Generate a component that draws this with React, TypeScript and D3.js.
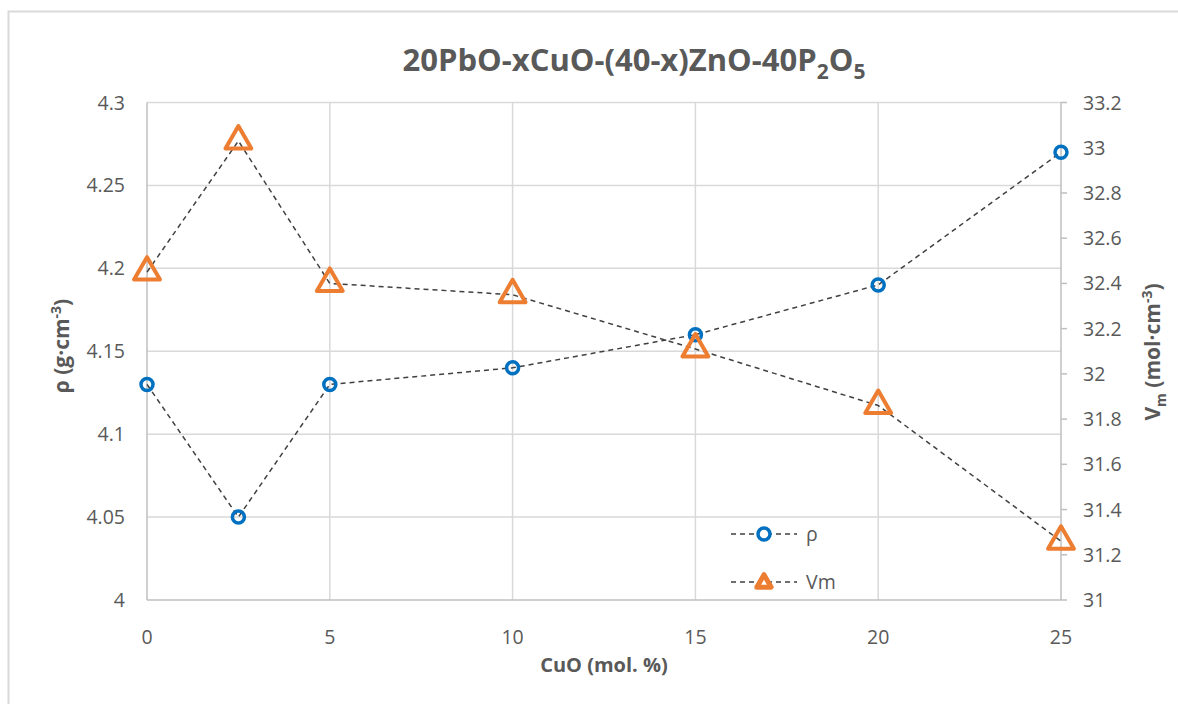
import * as d3 from "d3"
import { useEffect, useRef } from "react"

// CuO content (mol. %)
const cuo = [0, 2.5, 5, 10, 15, 20, 25]
// density, g/cm3
const rho = [4.13, 4.05, 4.13, 4.14, 4.16, 4.19, 4.27]
// molar volume, cm3/mol
const vm = [32.45, 33.03, 32.40, 32.35, 32.11, 31.86, 31.26]

const xTicks = [0, 5, 10, 15, 20, 25]
const leftTicks = [4, 4.05, 4.1, 4.15, 4.2, 4.25, 4.3]
const rightTicks = [31, 31.2, 31.4, 31.6, 31.8, 32, 32.2, 32.4, 32.6, 32.8, 33, 33.2]

const seriesNames = ["ρ", "Vm"]

const W = 1178
const H = 704
const FONT = "'Open Sans', 'DejaVu Sans', sans-serif"
const TXT = "#595959"
const GRID = "#d9d9d9"
const AXIS = "#bfbfbf"
const BLUE = "#0070C0"
const ORANGE = "#ED7D31"
const LINE = "#404040"

export default function App() {

	const svgRef = useRef<SVGSVGElement>(null)

	useEffect(() => {
		const svg = d3.select(svgRef.current)
		svg.selectAll("*").remove()

		const margin = { top: 102.5, left: 147, right: W - 1061, bottom: H - 600 }

		// scales
		const x = d3.scaleLinear().domain([0, 25]).range([margin.left, W - margin.right])
		const yL = d3.scaleLinear().domain([4, 4.3]).range([H - margin.bottom, margin.top])
		const yR = d3.scaleLinear().domain([31, 33.2]).range([H - margin.bottom, margin.top])

		// chart frame
		svg.append("rect")
			.attr("x", 8.5).attr("y", 11.5)
			.attr("width", 1300).attr("height", 1000)
			.attr("fill", "white")
			.attr("stroke", GRID).attr("stroke-width", 2)

		// horizontal grid
		svg.append("g")
			.selectAll("line")
			.data(leftTicks.slice(1))
			.enter()
			.append("line")
			.attr("x1", x(0)).attr("x2", x(25))
			.attr("y1", d => yL(d)).attr("y2", d => yL(d))
			.attr("stroke", GRID).attr("stroke-width", 1.5)

		// vertical grid
		svg.append("g")
			.selectAll("line")
			.data(xTicks.slice(1, -1))
			.enter()
			.append("line")
			.attr("x1", d => x(d)).attr("x2", d => x(d))
			.attr("y1", yL(4.3)).attr("y2", yL(4))
			.attr("stroke", GRID).attr("stroke-width", 1.5)

		// axis lines
		const axes = svg.append("g").attr("stroke", AXIS).attr("stroke-width", 1.5)
		axes.append("line").attr("x1", x(0)).attr("x2", x(0)).attr("y1", yL(4.3)).attr("y2", yL(4))
		axes.append("line").attr("x1", x(0)).attr("x2", x(25)).attr("y1", yL(4)).attr("y2", yL(4))
		axes.append("line").attr("x1", x(25)).attr("x2", x(25)).attr("y1", yR(33.2)).attr("y2", yR(31))
		// right axis ticks
		axes.selectAll(".rt")
			.data(rightTicks)
			.enter()
			.append("line")
			.attr("x1", x(25)).attr("x2", x(25) + 6)
			.attr("y1", d => yR(d)).attr("y2", d => yR(d))

		// tick labels
		svg.append("g")
			.selectAll("text")
			.data(leftTicks)
			.enter()
			.append("text")
			.attr("x", x(0) - 22)
			.attr("y", d => yL(d) + 7)
			.attr("text-anchor", "end")
			.attr("fill", TXT)
			.style("font-family", FONT)
			.style("font-size", "19.5px")
			.text(d => String(d))

		svg.append("g")
			.selectAll("text")
			.data(rightTicks)
			.enter()
			.append("text")
			.attr("x", x(25) + 22)
			.attr("y", d => yR(d) + 7)
			.attr("fill", TXT)
			.style("font-family", FONT)
			.style("font-size", "19.5px")
			.text(d => String(d))

		svg.append("g")
			.selectAll("text")
			.data(xTicks)
			.enter()
			.append("text")
			.attr("x", d => x(d))
			.attr("y", yL(4) + 44)
			.attr("text-anchor", "middle")
			.attr("fill", TXT)
			.style("font-family", FONT)
			.style("font-size", "19.5px")
			.text(d => String(d))

		// titles
		const title = svg.append("text")
			.attr("x", 634).attr("y", 71)
			.attr("text-anchor", "middle")
			.attr("fill", TXT)
			.style("font-family", FONT)
			.style("font-weight", "bold")
			.style("font-size", "31px")
		title.append("tspan").text("20PbO-xCuO-(40-x)ZnO-40P")
		title.append("tspan").attr("dy", 8).style("font-size", "21px").text("2")
		title.append("tspan").attr("dy", -8).text("O")
		title.append("tspan").attr("dy", 8).style("font-size", "21px").text("5")

		svg.append("text")
			.attr("x", 604).attr("y", 672)
			.attr("text-anchor", "middle")
			.attr("fill", TXT)
			.style("font-family", FONT)
			.style("font-weight", "bold")
			.style("font-size", "20px")
			.text("CuO (mol. %)")

		const yTitle = svg.append("text")
			.attr("transform", "translate(69, 346) rotate(-90)")
			.attr("text-anchor", "middle")
			.attr("fill", TXT)
			.style("font-family", FONT)
			.style("font-weight", "bold")
			.style("font-size", "21px")
		yTitle.append("tspan").text("ρ (g·cm")
		yTitle.append("tspan").attr("dy", -8).style("font-size", "14px").text("-3")
		yTitle.append("tspan").attr("dy", 8).text(")")

		const vTitle = svg.append("text")
			.attr("transform", "translate(1160, 352) rotate(-90)")
			.attr("text-anchor", "middle")
			.attr("fill", TXT)
			.style("font-family", FONT)
			.style("font-weight", "bold")
			.style("font-size", "21px")
		vTitle.append("tspan").text("V")
		vTitle.append("tspan").attr("dy", 6).style("font-size", "14px").text("m")
		vTitle.append("tspan").attr("dy", -6).text(" (mol·cm")
		vTitle.append("tspan").attr("dy", -8).style("font-size", "14px").text("-3")
		vTitle.append("tspan").attr("dy", 8).text(")")

		// lines
		const rhoLine = d3.line<number>().x((d, i) => x(cuo[i])).y(d => yL(d))
		const vmLine = d3.line<number>().x((d, i) => x(cuo[i])).y(d => yR(d))

		svg.append("path")
			.attr("d", rhoLine(rho))
			.attr("fill", "none")
			.attr("stroke", LINE).attr("stroke-width", 1.5)
			.attr("stroke-dasharray", "5,4")

		svg.append("path")
			.attr("d", vmLine(vm))
			.attr("fill", "none")
			.attr("stroke", LINE).attr("stroke-width", 1.5)
			.attr("stroke-dasharray", "5,4")

		// markers
		const tri = d3.symbol().type(d3.symbolTriangle).size(290)
		const triSmall = d3.symbol().type(d3.symbolTriangle).size(90)

		svg.append("g")
			.selectAll("circle")
			.data(rho)
			.enter()
			.append("circle")
			.attr("cx", (d, i) => x(cuo[i]))
			.attr("cy", d => yL(d))
			.attr("r", 6)
			.attr("fill", "none")
			.attr("stroke", BLUE).attr("stroke-width", 3.5)

		svg.append("g")
			.selectAll("path")
			.data(vm)
			.enter()
			.append("path")
			.attr("d", tri())
			.attr("transform", (d, i) => `translate(${x(cuo[i])}, ${yR(d)})`)
			.attr("fill", "none")
			.attr("stroke", ORANGE).attr("stroke-width", 4)
			.attr("stroke-linejoin", "round")

		// legend
		const legend = svg.append("g")
		const rows = [534, 582]
		seriesNames.forEach((name, i) => {
			legend.append("line")
				.attr("x1", 731).attr("x2", 797)
				.attr("y1", rows[i]).attr("y2", rows[i])
				.attr("stroke", LINE).attr("stroke-width", 1.5)
				.attr("stroke-dasharray", "5,4")
			if (i === 0) {
				legend.append("circle")
					.attr("cx", 764).attr("cy", rows[i]).attr("r", 6)
					.attr("fill", "white")
					.attr("stroke", BLUE).attr("stroke-width", 3.5)
			} else {
				legend.append("path")
					.attr("d", triSmall())
					.attr("transform", `translate(764, ${rows[i] + 1})`)
					.attr("fill", "white")
					.attr("stroke", ORANGE).attr("stroke-width", 5)
					.attr("stroke-linejoin", "round")
			}
			legend.append("text")
				.attr("x", 806).attr("y", rows[i] + 7)
				.attr("fill", TXT)
				.style("font-family", FONT)
				.style("font-size", "19.5px")
				.text(name)
		})
	}, [])

	return <svg ref={svgRef} width={W} height={H} style={{ position: "absolute", left: 0, top: 0, background: "white" }} />
}
